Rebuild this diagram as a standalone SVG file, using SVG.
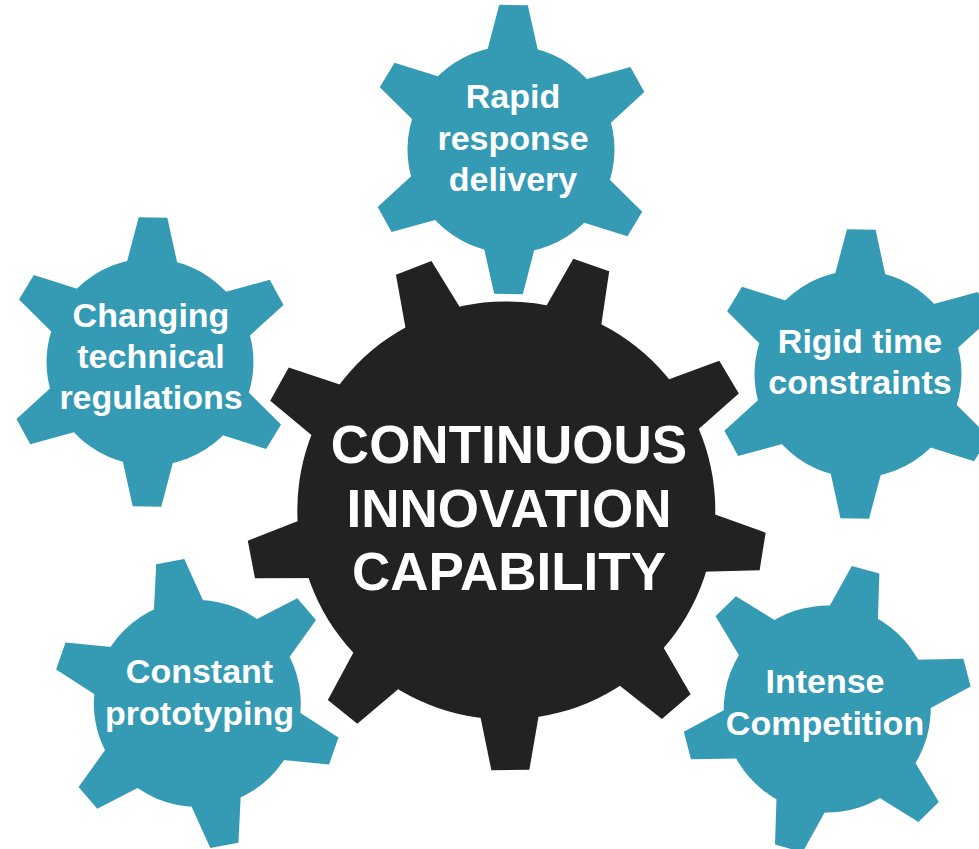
<svg xmlns="http://www.w3.org/2000/svg" width="979" height="849" viewBox="0 0 979 849">
<style>
.blue{fill:#359BB5}
.dark{fill:#222222}
.lbl{font-family:"Liberation Sans",Arial,sans-serif;font-weight:bold;fill:#ffffff;text-anchor:middle}
.sm{font-size:34px}
.big{font-size:53px}
</style>
<defs>
<path id="toothB" d="M -28.7,-85 L -14.3,-144.5 L 14.3,-144.5 L 28.7,-85 Z"/>
<path id="toothD" d="M -33.1,-185 L -19,-259.6 L 19,-259.6 L 33.1,-185 Z"/>
<g id="gearB">
<circle r="103.5"/>
<use href="#toothB"/>
<use href="#toothB" transform="rotate(60)"/>
<use href="#toothB" transform="rotate(120)"/>
<use href="#toothB" transform="rotate(180)"/>
<use href="#toothB" transform="rotate(240)"/>
<use href="#toothB" transform="rotate(300)"/>
</g>
</defs>
<rect width="979" height="849" fill="#ffffff"/>
<g id="connectors"></g>
<g id="gear-rapid">
<use href="#gearB" class="blue" transform="translate(511,149.5) rotate(1)"/>
<text class="lbl sm" x="513" y="108">Rapid</text>
<text class="lbl sm" x="513" y="150">response</text>
<text class="lbl sm" x="513" y="191">delivery</text>
</g>
<g id="gear-changing">
<use href="#gearB" class="blue" transform="translate(150,362) rotate(1.2)"/>
<text class="lbl sm" x="151" y="327">Changing</text>
<text class="lbl sm" x="151" y="368">technical</text>
<text class="lbl sm" x="151" y="409">regulations</text>
</g>
<g id="gear-rigid">
<use href="#gearB" class="blue" transform="translate(858,374) rotate(1.3)"/>
<text class="lbl sm" x="860" y="353">Rigid time</text>
<text class="lbl sm" x="860" y="394">constraints</text>
</g>
<g id="gear-constant">
<use href="#gearB" class="blue" transform="translate(197.3,703.5) rotate(-10.8)"/>
<text class="lbl sm" x="199.5" y="683">Constant</text>
<text class="lbl sm" x="199.5" y="725">prototyping</text>
</g>
<g id="gear-intense">
<use href="#gearB" class="blue" transform="translate(827.2,709.1) rotate(15.4)"/>
<text class="lbl sm" x="825" y="693">Intense</text>
<text class="lbl sm" x="825" y="735">Competition</text>
</g>
<g id="gear-central">
<g class="dark" transform="translate(506.3,510.4) rotate(19.1)">
<circle r="209"/>
<use href="#toothD"/>
<use href="#toothD" transform="rotate(40)"/>
<use href="#toothD" transform="rotate(80)"/>
<use href="#toothD" transform="rotate(120)"/>
<use href="#toothD" transform="rotate(160)"/>
<use href="#toothD" transform="rotate(200)"/>
<use href="#toothD" transform="rotate(240)"/>
<use href="#toothD" transform="rotate(280)"/>
<use href="#toothD" transform="rotate(320)"/>
</g>
<text class="lbl big" x="509" y="463">CONTINUOUS</text>
<text class="lbl big" x="509" y="527">INNOVATION</text>
<text class="lbl big" x="509" y="590">CAPABILITY</text>
</g>
</svg>
